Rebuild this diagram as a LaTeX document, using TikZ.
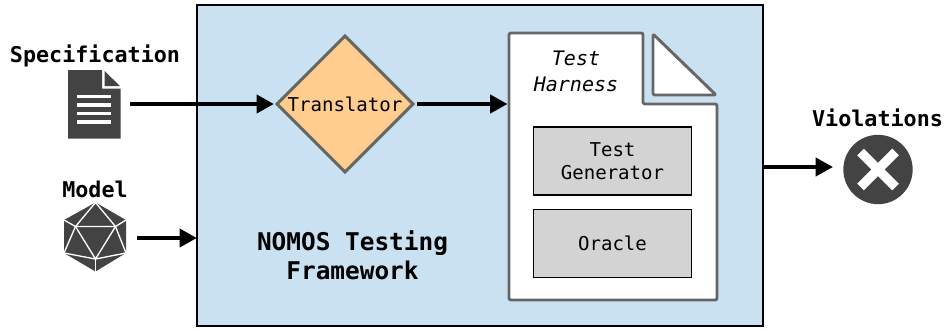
\documentclass[tikz,border=0pt]{standalone}
\usepackage{fontspec}
\setmainfont{DejaVu Sans Mono}
\usetikzlibrary{arrows.meta,shapes.geometric}
\definecolor{frameblue}{HTML}{C9E1F1}
\definecolor{dia}{HTML}{FFCE8E}
\definecolor{edgegray}{HTML}{666666}
\definecolor{inner}{HTML}{D3D3D3}
\definecolor{icon}{HTML}{434343}
\tikzset{
  x=0.75pt,y=-0.75pt,
  conn/.style={line width=3pt,-{Triangle[length=13pt,width=13.5pt]}},
  bigl/.style={font=\fontsize{16.3}{20}\selectfont\bfseries,inner sep=0pt},
  mono/.style={font=\fontsize{14.3}{19.5}\selectfont,inner sep=0pt,align=center},
  box/.style={draw=black,line width=0.8pt,fill=inner,minimum width=119pt,minimum height=51pt,inner sep=0pt,align=center,font=\fontsize{14.3}{16.8}\selectfont},
  ghost/.style={inner sep=0pt,minimum size=0pt},
  gline/.style={draw=edgegray,line width=2.2pt,line join=round},
  ico/.style={white,line width=1pt,line join=round}
}
\begin{document}
\begin{tikzpicture}
\useasboundingbox (0,0) rectangle (945,333);
% framework
\node[draw=black,line width=2.2pt,fill=frameblue,minimum width=424.5pt,minimum height=240.75pt,inner sep=0pt,anchor=north west] (frame) at (195.5,3.5) {};
\node[align=center,inner sep=0pt,font=\fontsize{18.3}{21.8}\selectfont\bfseries] (title) at (352.5,255.5) {NOMOS Testing\\Framework};
% translator
\node[diamond,aspect=1,draw=edgegray,line width=2.2pt,fill=dia,minimum width=103pt,minimum height=103pt,inner sep=0pt] (trans) at (345,104) {};
\node[mono] (translabel) at (345,104.5) {Translator};
% harness
\path[gline,fill=white,rounded corners=1.5pt] (509,33) -- (643,33) -- (643,104) -- (717,104) -- (717,300) -- (509,300) -- cycle;
\path[gline,fill=white,rounded corners=1pt] (653,34) -- (716,95) -- (653,95) -- cycle;
\coordinate (harness) at (507.5,104);
\node[font=\fontsize{15}{19.5}\selectfont\itshape,align=center,inner sep=0pt] (hlabel) at (576,71) {Test\\Harness};
\node[box] (gen) at (612.5,161) {Test\\Generator};
\node[box] (oracle) at (612.5,243.5) {Oracle};
% specification
\node[bigl] (speclabel) at (95,55.5) {Specification};
\node[ghost,minimum width=39pt,minimum height=51pt] (spec) at (94,104) {};
\fill[icon] (68,70) -- (102,70) -- (102,88.5) -- (120.5,88.5) -- (120.5,138.5) -- (68,138.5) -- cycle;
\fill[icon] (104.5,71) -- (120,86) -- (104.5,86) -- cycle;
\foreach \yy in {96.5,105,113.5,122}{\fill[white] (77,\yy-1.8) rectangle (111,\yy+1.8);}
% model
\node[bigl] (modellabel) at (95,189) {Model};
\node[ghost,minimum width=46pt,minimum height=51pt] (model) at (95,238) {};
\fill[icon] (95.5,202.5) -- (126,220) -- (126,253) -- (95.5,271.5) -- (64,253) -- (64,220) -- cycle;
\draw[ico] (95.5,202.5) -- (75.5,226.5) -- (115.5,226.5) -- cycle;
\draw[ico] (75.5,226.5) -- (95.5,259) -- (115.5,226.5);
\draw[ico] (64,220) -- (75.5,226.5) -- (64,253) -- (95.5,259) -- (126,253) -- (115.5,226.5) -- (126,220);
\draw[ico] (95.5,259) -- (95.5,271.5);
% violations
\node[bigl] (violabel) at (877.5,118) {Violations};
\node[circle,fill=icon,minimum size=52pt,inner sep=0pt] (viol) at (878,169.5) {};
\draw[white,line width=7pt] (viol.center) ++(-17.5,-17.5) -- ++(35,35);
\draw[white,line width=7pt] (viol.center) ++(17.5,-17.5) -- ++(-35,35);
% connectors
\coordinate (vs) at (763,167);
\coordinate (vt) at (833,167);
\coordinate (ms) at (137,238);
\draw[conn,shorten >=0.75pt] (spec.east) ++(10,0) coordinate (ss) (ss) -- (trans.west);
\draw[conn] (trans.east) ++(2,0) coordinate (ts) (ts) -- (harness);
\draw[conn,shorten >=-1pt] (ms) -- (frame.west |- ms);
\draw[conn] (vs) -- (vt);
\end{tikzpicture}
\end{document}
